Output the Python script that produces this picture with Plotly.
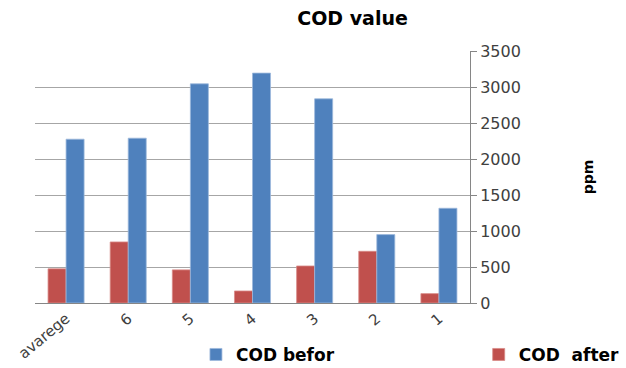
import plotly.graph_objects as go

categories = ["avarege", "6", "5", "4", "3", "2", "1"]
cod_after = [475, 848, 460, 167, 514, 718, 130]
cod_before = [2275, 2289, 3044, 3193, 2836, 950, 1316]
y_ticks = [0, 500, 1000, 1500, 2000, 2500, 3000, 3500]

FONT = "DejaVu Sans"

fig = go.Figure()
fig.add_trace(go.Bar(x=categories, y=cod_after, name="<b>COD\u00a0\u00a0after</b>",
                     legend="legend2",
                     marker=dict(color="#C0504D", line=dict(color="#D88A88", width=0.8))))
fig.add_trace(go.Bar(x=categories, y=cod_before, name="<b>COD befor</b>",
                     legend="legend",
                     marker=dict(color="#4F81BD", line=dict(color="#9DB9DC", width=0.8))))

legend_style = dict(orientation="h", xanchor="left", y=-0.206, yanchor="middle",
                    font=dict(family=FONT, size=17, color="black"),
                    itemwidth=30, bgcolor="rgba(0,0,0,0)")

fig.update_layout(
    width=626, height=368,
    paper_bgcolor="white", plot_bgcolor="white",
    margin=dict(l=35, r=156, t=51, b=65, autoexpand=False),
    barmode="group", bargap=0.42, bargroupgap=0,
    font=dict(family=FONT, size=15, color="#404040"),
    title=dict(text="<b>COD value</b>", x=0.73, xref="paper", xanchor="center",
               y=0.95, yanchor="middle", font=dict(family=FONT, size=19, color="black")),
    showlegend=True,
    legend=dict(x=0.37, **legend_style),
    legend2=dict(x=1.02, **legend_style),
    xaxis=dict(tickangle=-40, showline=True, linecolor="#868686", linewidth=1,
               ticks="", tickfont=dict(size=15, color="#404040"), showgrid=False),
    yaxis=dict(side="right", range=[0, 3500], tickvals=y_ticks, showgrid=True,
               gridcolor="#A6A6A6", gridwidth=1, showline=True, linecolor="#868686",
               ticks="outside", ticklen=6, tickcolor="#868686",
               zeroline=False, tickfont=dict(size=16, color="#404040"),
               title=dict(text="<b>ppm</b>", standoff=63, font=dict(size=14, color="black"))),
)
fig.write_html("out.html", post_script="document.body.style.margin='0';",
               config={"displayModeBar": False})
